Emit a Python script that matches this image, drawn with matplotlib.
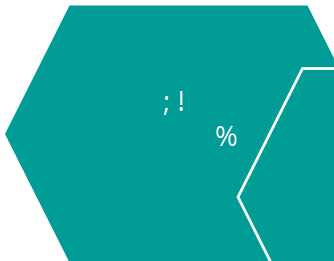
import matplotlib.pyplot as plt
from matplotlib.patches import Polygon

# hexagon tiles: centre x, centre y (pixel units, y down), outline colour
hex_cx = [188.5, 421.5]
hex_cy = [134, 197]
hex_edge = ['none', 'white']
half_w = 183.5
half_h = 128.5
slant = 64.5

labels = ['; !', '%']
label_x = [174, 226]
label_y = [104, 139]

teal = '#029C97'


def hexagon(cx, cy):
    return [(cx - half_w, cy), (cx - half_w + slant, cy - half_h),
            (cx + half_w - slant, cy - half_h), (cx + half_w, cy),
            (cx + half_w - slant, cy + half_h), (cx - half_w + slant, cy + half_h)]


fig = plt.figure(figsize=(3.34, 2.61), dpi=100)
ax = fig.add_axes([0, 0, 1, 1])
ax.set_xlim(0, 334)
ax.set_ylim(261, 0)
ax.axis('off')

for cx, cy, ec in zip(hex_cx, hex_cy, hex_edge):
    ax.add_patch(Polygon(hexagon(cx, cy), closed=True, facecolor=teal,
                         edgecolor=ec, linewidth=2))

for t, x, y in zip(labels, label_x, label_y):
    ax.text(x, y, t, color='white', fontsize=20, family='Open Sans',
            ha='center', va='center')

fig.savefig('out.png', dpi=100)
